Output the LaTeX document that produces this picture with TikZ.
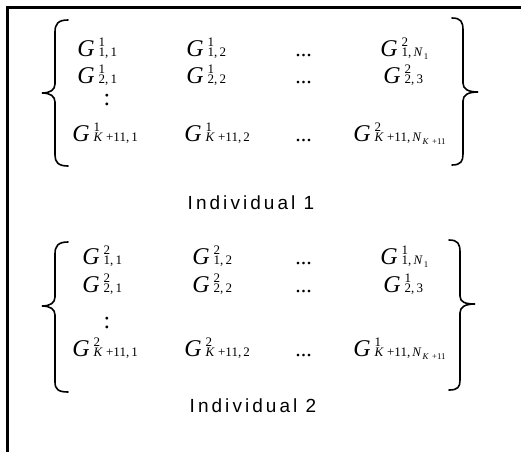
\documentclass[tikz,border=0pt]{standalone}
\usepackage{fontspec}
\setmainfont{Liberation Serif}
\newfontfamily\labelfont[LetterSpace=16]{Liberation Sans}
% stacked super/subscript after a G
\newcommand\gstack[2]{\makebox[0pt][l]{\raisebox{4.6pt}{#1}}\raisebox{-0.4pt}{#2}}
\newcommand\gterm[2]{\textit{G}\kern2pt{\fontsize{6.5}{7}\selectfont\gstack{#1}{#2}}}
\newcommand\nsub[1]{\textit{N}\kern0.5pt\raisebox{-1.4pt}{\fontsize{4.4}{5}\selectfont #1}}
\newcommand\kidx{\textit{K}\kern1.6pt+11}
\tikzset{
  entry/.style={anchor=base west, inner sep=0pt, font=\fontsize{12}{14}\selectfont},
  dotsnode/.style={anchor=base west, inner sep=0pt, font=\fontsize{11}{13}\selectfont},
  caption/.style={anchor=base, inner sep=0pt, font=\labelfont\fontsize{9.5}{11}\selectfont},
  brace/.style={line width=0.8pt, line cap=round},
  frame/.style={line width=1.5pt}
}
\begin{document}
\begin{tikzpicture}[x=0.5pt, y=-0.5pt]
\useasboundingbox (0,0) rectangle (521,452);

% open frame: top and left sides
\coordinate (ftr) at (521,7.5);
\coordinate (ftl) at (8,7.5);
\coordinate (fbl) at (8,452);
\draw[frame] (ftr) -- (ftl) -- (fbl);

% ---------- first individual ----------
\node[entry] (a11) at (77,56)  {\gterm{1}{1,\,1}};
\node[entry] (a12) at (186,56) {\gterm{1}{1,\,2}};
\node[dotsnode] (a1d) at (295,56) {...};
\node[entry] (a1n) at (380,56) {\gterm{2}{1,\,\nsub{1}}};
\node[entry] (a21) at (77,83)  {\gterm{1}{2,\,1}};
\node[entry] (a22) at (186,83) {\gterm{1}{2,\,2}};
\node[dotsnode] (a2d) at (295,83) {...};
\node[entry] (a23) at (383,83) {\gterm{2}{2,\,3}};
\node[entry, anchor=center] (acol) at (107,100) {:};
\node[entry] (ak1) at (72,141)  {\gterm{1}{\kidx,\,1}};
\node[entry] (ak2) at (184,141) {\gterm{1}{\kidx,\,2}};
\node[dotsnode] (akd) at (295,141) {...};
\node[entry] (akn) at (353,141) {\gterm{2}{\kidx,\,\nsub{\kidx}}};

\draw[brace] (68,20) .. controls (58,20) and (55,24) .. (55,32)
  -- (55,84) .. controls (55,90) and (50,93) .. (42,93)
  .. controls (50,93) and (55,96) .. (55,102)
  -- (55,155) .. controls (55,162) and (58,166) .. (68,166);
\draw[brace] (452,18) .. controls (461,18) and (463,22) .. (463,30)
  -- (463,83) .. controls (463,89) and (468,92) .. (478,92)
  .. controls (468,92) and (463,95) .. (463,101)
  -- (463,154) .. controls (463,161) and (461,165) .. (452,165);

\node[caption] (ind1) at (251,209) {Individual 1};

% ---------- second individual ----------
\node[entry] (b11) at (82,264)  {\gterm{2}{1,\,1}};
\node[entry] (b12) at (192,264) {\gterm{2}{1,\,2}};
\node[dotsnode] (b1d) at (295,264) {...};
\node[entry] (b1n) at (380,264) {\gterm{1}{1,\,\nsub{1}}};
\node[entry] (b21) at (82,292)  {\gterm{2}{2,\,1}};
\node[entry] (b22) at (192,292) {\gterm{2}{2,\,2}};
\node[dotsnode] (b2d) at (295,292) {...};
\node[entry] (b23) at (383,292) {\gterm{1}{2,\,3}};
\node[entry, anchor=center] (bcol) at (107,323) {:};
\node[entry] (bk1) at (72,356)  {\gterm{2}{\kidx,\,1}};
\node[entry] (bk2) at (184,356) {\gterm{2}{\kidx,\,2}};
\node[dotsnode] (bkd) at (295,356) {...};
\node[entry] (bkn) at (353,356) {\gterm{1}{\kidx,\,\nsub{\kidx}}};

\draw[brace] (68,242) .. controls (58,242) and (55,246) .. (55,254)
  -- (55,297) .. controls (55,303) and (50,306) .. (42,306)
  .. controls (50,306) and (55,309) .. (55,315)
  -- (55,382) .. controls (55,389) and (58,392) .. (68,392);
\draw[brace] (449,240) .. controls (458,240) and (460,244) .. (460,252)
  -- (460,296) .. controls (460,302) and (465,304) .. (475,304)
  .. controls (465,304) and (460,307) .. (460,313)
  -- (460,380) .. controls (460,387) and (458,390) .. (449,390);

\node[caption] (ind2) at (253,412) {Individual 2};
\end{tikzpicture}
\end{document}
